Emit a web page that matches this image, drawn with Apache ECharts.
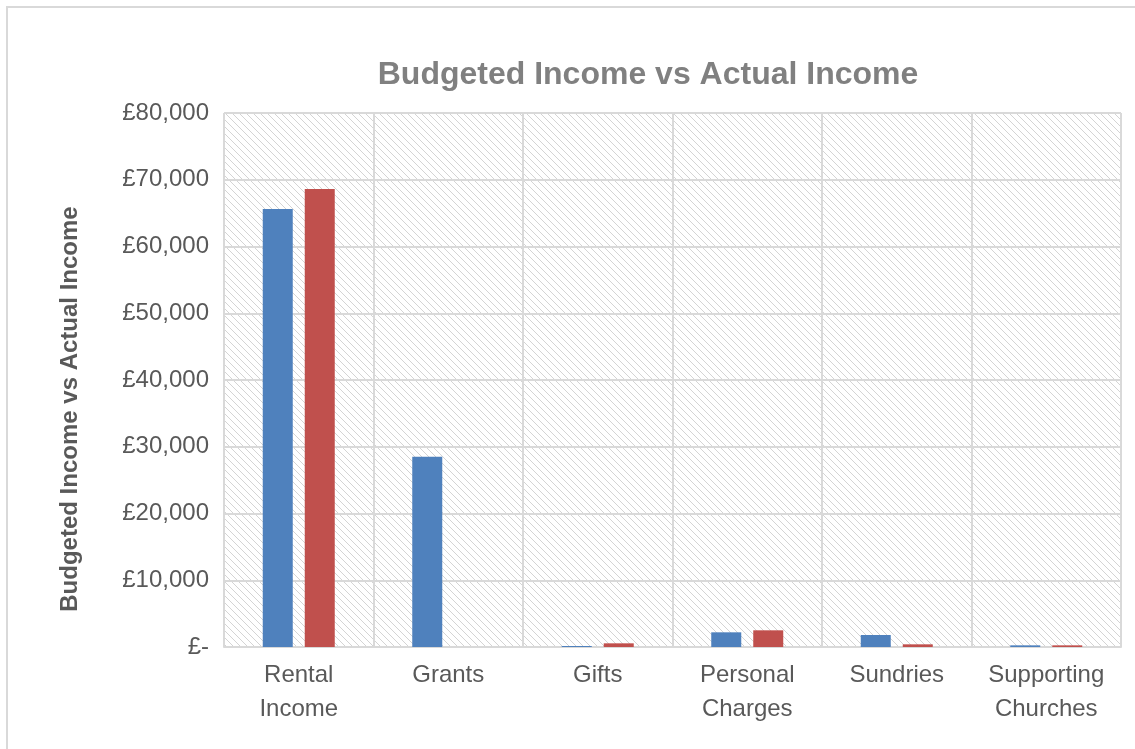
<!DOCTYPE html>
<html>
<head>
<meta charset="utf-8">
<title>Budgeted Income vs Actual Income</title>
<script src="https://cdn.jsdelivr.net/npm/echarts@6/dist/echarts.min.js"></script>
<style>
  html, body { margin: 0; padding: 0; background: #fff; }
  #chart { width: 1135px; height: 749px; }
</style>
</head>
<body>
<div id="chart"></div>
<script>
// data
const categories = ['Rental\nIncome', 'Grants', 'Gifts', 'Personal\nCharges', 'Sundries', 'Supporting\nChurches']
const budgeted = [65600, 28500, 150, 2200, 1800, 250]
const actual = [68600, 0, 550, 2500, 400, 250]
const yTicks = [0, 80000, 10000] // min, max, interval

const font = '"Liberation Sans", Arial, Helvetica, sans-serif'
const lineGray = '#d9d9d9'

// diagonal hatch for the plot area
function hatch() {
    const c = document.createElement('canvas')
    c.width = 7
    c.height = 7
    const ctx = c.getContext('2d')
    ctx.fillStyle = '#fff'
    ctx.fillRect(0, 0, 7, 7)
    ctx.strokeStyle = '#d4d4d4'
    ctx.lineWidth = 1
    ctx.beginPath()
    ctx.moveTo(-1, -1)
    ctx.lineTo(8, 8)
    ctx.stroke()
    return c
}

const chart = echarts.init(document.getElementById('chart'), null, { renderer: 'canvas' })

const option = {
    animation: false,
    backgroundColor: '#fff',
    title: {
        text: 'Budgeted Income vs Actual Income',
        left: 643,
        top: 54,
        textAlign: 'center',
        textStyle: { color: '#808080', fontSize: 32, fontWeight: 'bold', fontFamily: font }
    },
    graphic: [
        {
            type: 'rect',
            shape: { x: 7, y: 7, width: 1200, height: 800 },
            style: { fill: 'none', stroke: lineGray, lineWidth: 2 },
            silent: true
        },
        {
            type: 'text',
            x: 70,
            y: 409,
            rotation: Math.PI / 2,
            style: {
                text: 'Budgeted Income vs Actual Income',
                fill: '#595959',
                font: 'bold 24px ' + font,
                align: 'center',
                verticalAlign: 'middle'
            }
        }
    ],
    grid: {
        left: 224,
        right: 14,
        top: 113,
        bottom: 102,
        show: true,
        borderWidth: 0,
        backgroundColor: { image: hatch(), repeat: 'repeat' }
    },
    xAxis: {
        type: 'category',
        data: categories,
        axisTick: { show: false },
        axisLine: { show: true, lineStyle: { color: lineGray, width: 2 } },
        splitLine: { show: true, lineStyle: { color: lineGray, width: 2 } },
        axisLabel: {
            color: '#595959',
            fontSize: 24,
            fontFamily: font,
            lineHeight: 34,
            margin: 11,
            interval: 0
        }
    },
    yAxis: {
        type: 'value',
        min: yTicks[0],
        max: yTicks[1],
        interval: yTicks[2],
        axisLine: { show: false },
        axisTick: { show: false },
        splitLine: { show: true, lineStyle: { color: lineGray, width: 2 } },
        axisLabel: {
            color: '#595959',
            fontSize: 24,
            fontFamily: font,
            margin: 15,
            formatter: v => v === 0 ? '£-' : '£' + v.toLocaleString('en-GB')
        }
    },
    series: [
        {
            name: 'Budgeted Income',
            type: 'bar',
            data: budgeted,
            barWidth: 30,
            barGap: '40%',
            itemStyle: { color: '#4f81bd' }
        },
        {
            name: 'Actual Income',
            type: 'bar',
            data: actual,
            barWidth: 30,
            itemStyle: { color: '#c0504d' }
        }
    ]
}

chart.setOption(option)
</script>
</body>
</html>
